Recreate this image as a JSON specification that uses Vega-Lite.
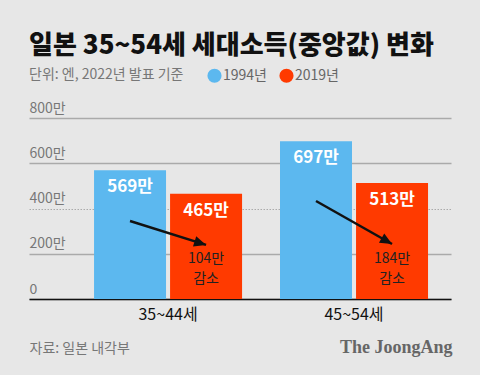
{
  "$schema": "https://vega.github.io/schema/vega-lite/v6.json",
  "width": 422,
  "height": 181,
  "autosize": {"type": "none"},
  "padding": {"left": 29, "top": 118, "right": 29, "bottom": 76},
  "background": "#e7e7e7",
  "config": {
    "view": {"stroke": null},
    "font": "Noto Sans CJK KR"
  },
  "title": {
    "text": "일본 35~54세 세대소득(중앙값) 변화",
    "subtitle": "단위: 엔, 2022년 발표 기준",
    "anchor": "start",
    "frame": "group",
    "font": "Noto Sans CJK KR",
    "fontSize": 26,
    "fontWeight": 900,
    "color": "#111111",
    "subtitleFont": "Noto Sans CJK KR",
    "subtitleFontSize": 14,
    "subtitleColor": "#777777",
    "subtitlePadding": 9,
    "offset": -14
  },
  "data": {
    "values": [
      {"group": "35~44세", "year": "1994년", "value": 569, "label": "569만"},
      {"group": "35~44세", "year": "2019년", "value": 465, "label": "465만"},
      {"group": "45~54세", "year": "1994년", "value": 697, "label": "697만"},
      {"group": "45~54세", "year": "2019년", "value": 513, "label": "513만"}
    ]
  },
  "encoding": {
    "x": {
      "field": "group",
      "type": "nominal",
      "scale": {"paddingInner": 0.204, "paddingOuter": 0.2366, "align": 0.739},
      "axis": {
        "labelAngle": 0,
        "labelFontSize": 16,
        "labelColor": "#111111",
        "labelPadding": 7,
        "ticks": false,
        "tickSize": 0,
        "domainColor": "#111111",
        "domainWidth": 1.5,
        "grid": false,
        "title": "자료: 일본 내각부",
        "titleAnchor": "start",
        "titleAlign": "left",
        "titleX": 0,
        "titleY": 49,
        "titleBaseline": "middle",
        "titleFontSize": 14,
        "titleFontWeight": "normal",
        "titleColor": "#777777"
      }
    },
    "xOffset": {
      "field": "year",
      "type": "nominal",
      "scale": {"paddingInner": 0.053, "paddingOuter": 0}
    }
  },
  "layer": [
    {
      "mark": {"type": "bar"},
      "encoding": {
        "y": {
          "field": "value",
          "type": "quantitative",
          "scale": {"domain": [0, 800]},
          "axis": {
            "values": [0, 200, 400, 600, 800],
            "labelExpr": "datum.value == 0 ? '0' : datum.value + '만'",
            "labelAlign": "left",
            "labelBaseline": "bottom",
            "labelPadding": 0,
            "labelOffset": -3,
            "labelFontSize": 14,
            "labelColor": "#777777",
            "ticks": false,
            "tickSize": 0,
            "domain": false,
            "grid": true,
            "gridColor": "#aaaaaa",
            "gridWidth": {"condition": {"test": "datum.value == 400", "value": 1}, "value": 1.5},
            "gridDash": {"condition": {"test": "datum.value == 400", "value": [1.5, 1.5]}, "value": []},
            "title": "The JoongAng",
            "titleAngle": 0,
            "titleX": 423,
            "titleY": 229,
            "titleAlign": "right",
            "titleBaseline": "middle",
            "titleFont": "Liberation Serif",
            "titleFontWeight": "bold",
            "titleFontSize": 18,
            "titleColor": "#666666"
          }
        },
        "color": {
          "field": "year",
          "type": "nominal",
          "scale": {"domain": ["1994년", "2019년"], "range": ["#5cb8ef", "#ff3a00"]},
          "legend": {
            "orient": "none",
            "legendX": 178,
            "legendY": -50,
            "direction": "horizontal",
            "title": null,
            "symbolType": "circle",
            "symbolSize": 200,
            "symbolOpacity": 1,
            "symbolStrokeWidth": 0,
            "labelFontSize": 14,
            "labelColor": "#666666",
            "labelOffset": 1,
            "columnPadding": 12
          }
        }
      }
    },
    {
      "mark": {"type": "text", "baseline": "middle", "dy": 17, "fontSize": 17, "fontWeight": "bold", "color": "#ffffff"},
      "encoding": {
        "y": {"field": "value", "type": "quantitative"},
        "text": {"field": "label"}
      }
    },
    {
      "data": {
        "values": [
          {"group": "35~44세", "year": "1994년", "arrow": 345},
          {"group": "35~44세", "year": "2019년", "arrow": 239},
          {"group": "45~54세", "year": "1994년", "arrow": 433},
          {"group": "45~54세", "year": "2019년", "arrow": 243}
        ]
      },
      "layer": [
        {
          "mark": {"type": "line", "color": "#111111", "strokeWidth": 2.5},
          "encoding": {
            "y": {"field": "arrow", "type": "quantitative"},
            "detail": {"field": "group"}
          }
        },
        {
          "transform": [{"filter": "datum.year == '2019년'"}],
          "mark": {"type": "point", "shape": "M0,0L-2,-0.9L-2,0.9Z", "filled": true, "color": "#111111", "opacity": 1, "size": 144, "strokeWidth": 0},
          "encoding": {
            "y": {"field": "arrow", "type": "quantitative"},
            "angle": {"field": "group", "type": "nominal", "scale": {"domain": ["35~44세", "45~54세"], "range": [17.5, 29.5]}, "legend": null}
          }
        }
      ]
    },
    {
      "data": {
        "values": [
          {"group": "35~44세", "year": "2019년", "change": "104만", "word": "감소"},
          {"group": "45~54세", "year": "2019년", "change": "184만", "word": "감소"}
        ]
      },
      "layer": [
        {
          "mark": {"type": "text", "baseline": "middle", "fontSize": 14, "color": "#222222"},
          "encoding": {
            "y": {"datum": 175, "type": "quantitative"},
            "text": {"field": "change"}
          }
        },
        {
          "mark": {"type": "text", "baseline": "middle", "fontSize": 14, "color": "#222222"},
          "encoding": {
            "y": {"datum": 88, "type": "quantitative"},
            "text": {"field": "word"}
          }
        }
      ]
    }
  ]
}
